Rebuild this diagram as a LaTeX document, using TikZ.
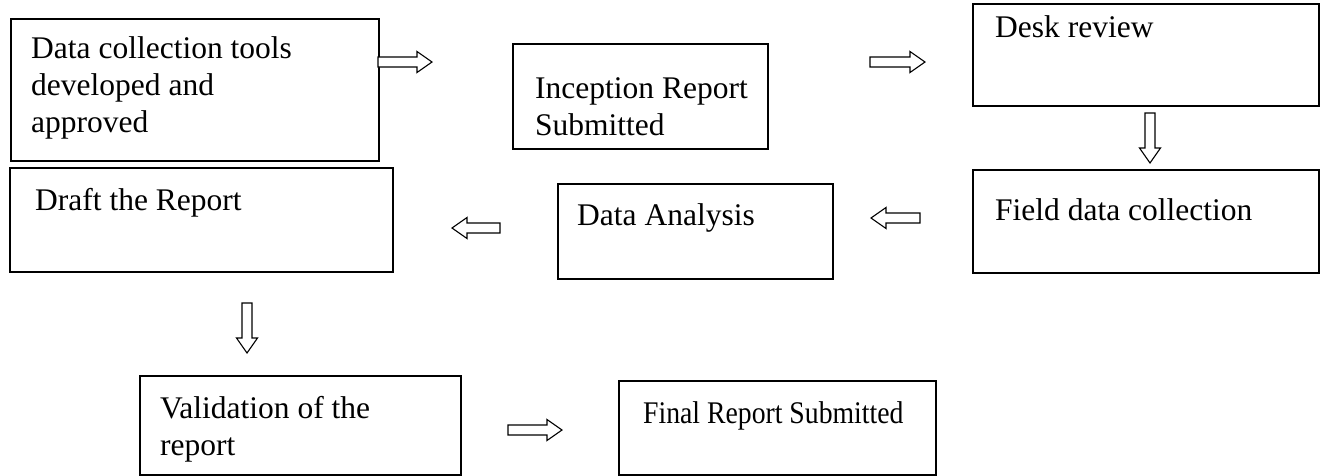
\documentclass[tikz,border=0pt]{standalone}
\usepackage{fontspec}
\setmainfont{Liberation Serif}
\newfontfamily\narrowserif[FakeStretch=0.88]{Liberation Serif}
\newcommand\blockarrow[4]{%
  \draw[arr, shift={(#1,#2)}, rotate=#4] (0,-5) -- ({#3-15},-5) -- ({#3-15},-10.5) -- (#3,0) -- ({#3-15},10.5) -- ({#3-15},5) -- (0,5) -- cycle;}
\begin{document}
\begin{tikzpicture}[x=1pt,y=-1pt,
  box/.style={draw, line width=1.5pt, inner sep=0pt, anchor=north west},
  txt/.style={anchor=base west, inner sep=0pt, font=\fontsize{31.5}{37}\selectfont},
  arr/.style={draw, line width=1.1pt, fill=white, line join=miter}]
\useasboundingbox (0,0) rectangle (1338,475);
% boxes
\node[box, minimum width=368, minimum height=142] (b1) at (10,18) {};
\node[box, minimum width=255, minimum height=105] (b2) at (512,43) {};
\node[box, minimum width=346, minimum height=102] (b3) at (972,3) {};
\node[box, minimum width=346, minimum height=103] (b4) at (972,169) {};
\node[box, minimum width=275, minimum height=95] (b5) at (557,183) {};
\node[box, minimum width=383, minimum height=104] (b6) at (9,167) {};
\node[box, minimum width=321, minimum height=99] (b7) at (139,375) {};
\node[box, minimum width=317, minimum height=94] (b8) at (618,380) {};
% texts
\node[txt] (t1) at (31,58) {\begin{tabular}[t]{@{}l@{}}Data collection tools\\developed and\\approved\end{tabular}};
\node[txt] (t2) at (535,98) {\begin{tabular}[t]{@{}l@{}}Inception Report\\Submitted\end{tabular}};
\node[txt] (t3) at (995,37) {Desk review};
\node[txt] (t4) at (995,220) {Field data collection};
\node[txt] (t5) at (577,225) {Data Analysis};
\node[txt] (t6) at (35,210) {Draft the Report};
\node[txt] (t7) at (160,418) {\begin{tabular}[t]{@{}l@{}}Validation of the\\report\end{tabular}};
\node[txt, font=\fontsize{31.5}{37}\narrowserif] (t8) at (643,423) {Final Report Submitted};
% block arrows
\blockarrow{378}{62}{54}{0}
\blockarrow{870}{62}{55}{0}
\blockarrow{1150}{113}{50}{-90}
\blockarrow{920}{218}{49}{180}
\blockarrow{500}{228}{48}{180}
\blockarrow{247}{303}{50}{-90}
\blockarrow{508}{430}{54}{0}
\end{tikzpicture}
\end{document}
